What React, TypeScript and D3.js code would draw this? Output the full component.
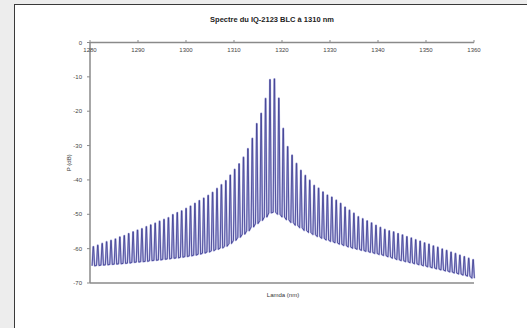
import { useEffect, useRef } from 'react'
import * as d3 from 'd3'

const title = 'Spectre du IQ-2123 BLC à 1310 nm'
const xTicks = [1280, 1290, 1300, 1310, 1320, 1330, 1340, 1350, 1360]
const yTicks = [0, -10, -20, -30, -40, -50, -60, -70]

// mode wavelengths (nm)
const modeLambda = [
  1280.70, 1281.62, 1282.54, 1283.46, 1284.38, 1285.30, 1286.22, 1287.14, 1288.06, 1288.98,
  1289.90, 1290.82, 1291.74, 1292.66, 1293.58, 1294.50, 1295.42, 1296.34, 1297.26, 1298.18,
  1299.10, 1300.02, 1300.94, 1301.86, 1302.78, 1303.70, 1304.62, 1305.54, 1306.46, 1307.38,
  1308.30, 1309.22, 1310.14, 1311.06, 1311.98, 1312.90, 1313.82, 1314.74, 1315.66, 1316.58,
  1317.50, 1318.42, 1319.34, 1320.26, 1321.18, 1322.10, 1323.02, 1323.94, 1324.86, 1325.78,
  1326.70, 1327.62, 1328.54, 1329.46, 1330.38, 1331.30, 1332.22, 1333.14, 1334.06, 1334.98,
  1335.90, 1336.82, 1337.74, 1338.66, 1339.58, 1340.50, 1341.42, 1342.34, 1343.26, 1344.18,
  1345.10, 1346.02, 1346.94, 1347.86, 1348.78, 1349.70, 1350.62, 1351.54, 1352.46, 1353.38,
  1354.30, 1355.22, 1356.14, 1357.06, 1357.98, 1358.90, 1359.82,
]

// peak power of each mode (dB)
const peakDb = [
  -59.4, -59.0, -58.5, -58.0, -57.6, -57.2, -56.6, -56.2, -55.6, -55.1,
  -54.6, -54.2, -53.6, -53.1, -52.6, -52.0, -51.5, -51.0, -50.1, -49.5,
  -49.0, -48.3, -47.6, -46.8, -46.0, -45.3, -44.5, -43.6, -42.5, -41.4,
  -40.2, -38.6, -36.9, -35.3, -33.4, -30.9, -27.9, -23.6, -20.6, -16.3,
  -10.8, -10.6, -16.2, -25.0, -30.3, -32.8, -35.2, -37.2, -38.7, -40.1,
  -41.6, -42.4, -43.5, -44.4, -45.0, -45.9, -46.8, -47.9, -48.8, -49.7,
  -50.7, -51.3, -51.9, -52.5, -53.2, -53.8, -54.4, -54.8, -55.1, -55.6,
  -56.0, -56.5, -56.9, -57.4, -57.8, -58.3, -58.7, -59.2, -59.6, -60.1,
  -60.5, -61.0, -61.4, -61.9, -62.3, -62.8, -63.2,
]

// floor between modes (dB)
const floorDb = [
  -65.0, -64.9, -64.8, -64.7, -64.6, -64.5, -64.4, -64.3, -64.2, -64.0,
  -63.9, -63.8, -63.7, -63.5, -63.4, -63.3, -63.1, -63.0, -62.8, -62.7,
  -62.5, -62.3, -62.1, -61.9, -61.6, -61.3, -61.0, -60.6, -60.2, -59.8,
  -59.3, -58.5, -57.6, -56.7, -55.8, -54.8, -53.7, -52.7, -51.8, -50.8,
  -49.6, -49.4, -50.0, -50.8, -51.6, -52.4, -53.2, -53.9, -54.7, -55.3,
  -55.9, -56.5, -57.0, -57.5, -57.9, -58.3, -58.7, -59.1, -59.5, -59.9,
  -60.2, -60.5, -60.8, -61.1, -61.4, -61.7, -62.0, -62.4, -62.8, -63.2,
  -63.5, -63.8, -64.1, -64.4, -64.7, -65.0, -65.3, -65.6, -65.9, -66.2,
  -66.5, -66.8, -67.1, -67.4, -67.7, -68.0, -68.6,
]

export default function App() {
  const svgRef = useRef<SVGSVGElement>(null)

  useEffect(() => {
    if (!svgRef.current) return
    const width = 527
    const height = 328

    const svg = d3.select(svgRef.current)
    svg.selectAll('*').remove()
    svg.attr('width', width).attr('height', height)

    svg.append('rect').attr('width', width).attr('height', height).attr('fill', '#ededed')
    svg.append('rect')
      .attr('x', 14.5).attr('y', 4.5)
      .attr('width', width).attr('height', height)
      .attr('fill', '#ffffff')
      .attr('stroke', '#3a3a3a')
      .attr('stroke-width', 1)

    const x = d3.scaleLinear().domain([1280, 1360]).range([90, 474])
    const y = d3.scaleLinear().domain([0, -70]).range([42.5, 283])

    const font = 'Liberation Sans, Arial, sans-serif'

    // title
    svg.append('text')
      .attr('x', 272).attr('y', 22)
      .attr('text-anchor', 'middle')
      .style('font-family', font)
      .style('font-size', '7.5px')
      .style('font-weight', 'bold')
      .attr('fill', '#222')
      .text(title)

    // spectrum trace
    const pts: [number, number][] = []
    modeLambda.forEach((l, i) => {
      const f = floorDb[i]
      pts.push([l - 0.26, f])
      pts.push([l - 0.04, peakDb[i]])
      pts.push([l + 0.04, peakDb[i]])
      pts.push([l + 0.26, f])
    })
    const line = d3.line<[number, number]>()
      .x(d => x(d[0]))
      .y(d => y(d[1]))

    svg.append('path')
      .attr('d', line(pts))
      .attr('fill', 'none')
      .attr('stroke', '#b0b0e0')
      .attr('stroke-width', 1.8)
      .attr('stroke-linejoin', 'round')

    svg.append('path')
      .attr('d', line(pts))
      .attr('fill', 'none')
      .attr('stroke', '#34348a')
      .attr('stroke-width', 0.75)

    // axes
    const axisColor = '#8a8a8a'
    svg.append('line')
      .attr('x1', x(1280)).attr('x2', x(1360))
      .attr('y1', y(0)).attr('y2', y(0))
      .attr('stroke', axisColor).attr('stroke-width', 1.3)
    svg.append('line')
      .attr('x1', x(1280)).attr('x2', x(1360))
      .attr('y1', y(-70)).attr('y2', y(-70))
      .attr('stroke', axisColor).attr('stroke-width', 1.5)
    svg.append('line')
      .attr('x1', x(1280)).attr('x2', x(1280))
      .attr('y1', y(0)).attr('y2', y(-70))
      .attr('stroke', axisColor).attr('stroke-width', 1.5)

    xTicks.forEach(t => {
      svg.append('line')
        .attr('x1', x(t)).attr('x2', x(t))
        .attr('y1', y(0) - 2.5).attr('y2', y(0))
        .attr('stroke', axisColor).attr('stroke-width', 1)
      svg.append('text')
        .attr('x', x(t)).attr('y', y(0) + 9)
        .attr('text-anchor', 'middle')
        .style('font-family', font)
        .style('font-size', '6px')
        .attr('fill', '#444')
        .text(t)
    })

    yTicks.forEach(t => {
      svg.append('line')
        .attr('x1', x(1280) - 3).attr('x2', x(1280))
        .attr('y1', y(t)).attr('y2', y(t))
        .attr('stroke', axisColor).attr('stroke-width', 1)
      svg.append('text')
        .attr('x', x(1280) - 8).attr('y', y(t) + 2)
        .attr('text-anchor', 'end')
        .style('font-family', font)
        .style('font-size', '6px')
        .attr('fill', '#444')
        .text(t)
    })

    svg.append('text')
      .attr('transform', `translate(71, ${(y(0) + y(-70)) / 2}) rotate(-90)`)
      .attr('text-anchor', 'middle')
      .style('font-family', font)
      .style('font-size', '6px')
      .attr('fill', '#333')
      .text('P (dB)')

    svg.append('text')
      .attr('x', (x(1280) + x(1360)) / 2 + 1).attr('y', 297)
      .attr('text-anchor', 'middle')
      .style('font-family', font)
      .style('font-size', '6px')
      .attr('fill', '#333')
      .text('Lamda (nm)')
  }, [])

  return (
    <svg ref={svgRef} style={{ position: 'absolute', left: 0, top: 0, display: 'block' }}></svg>
  )
}
